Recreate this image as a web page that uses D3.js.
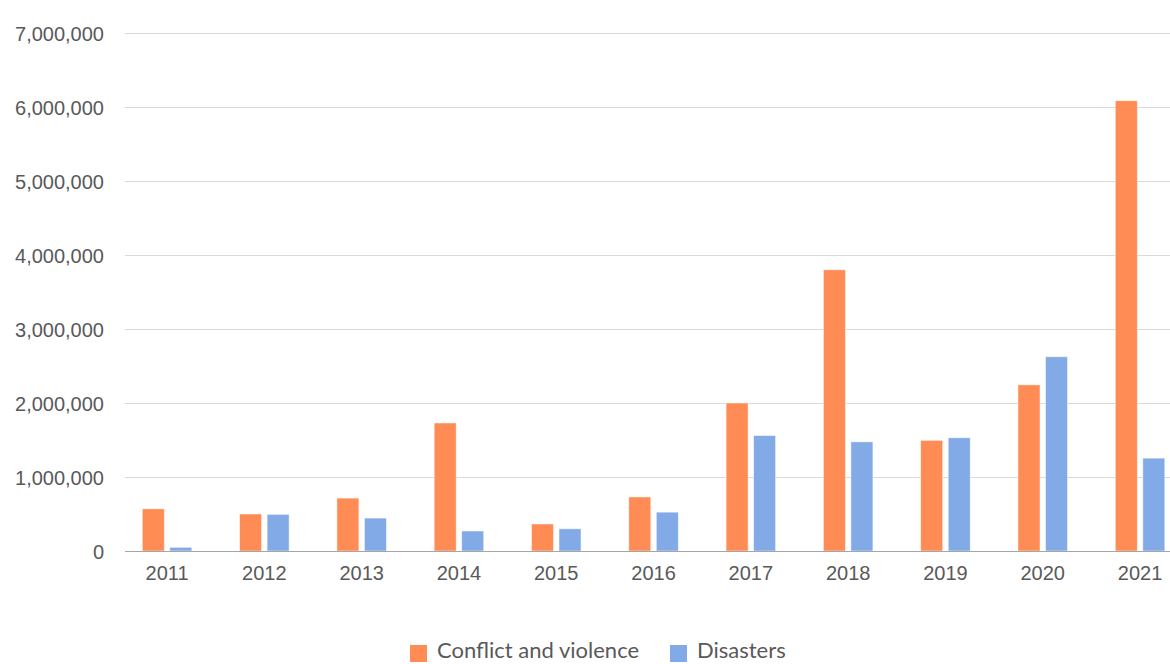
<!DOCTYPE html>
<html>
<head>
<meta charset="utf-8">
<script src="https://cdn.jsdelivr.net/npm/d3@7"></script>
<style>
  html, body { margin: 0; padding: 0; background: #fff; }
  svg { display: block; font-family: Lato, "Open Sans", sans-serif; }
</style>
</head>
<body>
<svg id="chart" width="1170" height="664"></svg>
<script>
// New internal displacements per year
const years = ["2011","2012","2013","2014","2015","2016","2017","2018","2019","2020","2021"];
const conflict = [570000, 500000, 715000, 1730000, 365000, 730000, 2000000, 3800000, 1495000, 2245000, 6085000];
const disasters = [50000, 495000, 445000, 270000, 300000, 525000, 1560000, 1475000, 1530000, 2625000, 1255000];
const seriesNames = ["Conflict and violence", "Disasters"];
const yTicks = [0, 1000000, 2000000, 3000000, 4000000, 5000000, 6000000, 7000000];

const colors = ["#FF8B55", "#82AAE6"];
const svg = d3.select("#chart");

const plotLeft = 125, plotRight = 1170;
const y = d3.scaleLinear().domain([0, 7000000]).range([551, 33]);
const x = d3.scaleBand().domain(years).range([118.4, 1188.7]).paddingInner(0).paddingOuter(0);
const bw = x.bandwidth();
const pairHalf = bw * 0.2545;
const sub = d3.scaleBand().domain(seriesNames).range([bw / 2 - pairHalf, bw / 2 + pairHalf]).paddingInner(0.2).paddingOuter(0);

// gridlines
svg.append("g").selectAll("line").data(yTicks.filter(d => d > 0)).join("line")
  .attr("x1", plotLeft).attr("x2", plotRight)
  .attr("y1", d => Math.round(y(d)) + 0.5).attr("y2", d => Math.round(y(d)) + 0.5)
  .attr("stroke", "#d9d9d9").attr("stroke-width", 1);

// y labels
const yAxis = d3.axisLeft(y).tickValues(yTicks).tickFormat(d3.format(",")).tickSize(0).tickPadding(0);
const yg = svg.append("g").attr("transform", `translate(104,0)`).call(yAxis);
yg.select(".domain").remove();
yg.selectAll("text").attr("fill", "#595959").style("font-size", "20px").attr("dy", "0.35em");

// bars
const data = years.map((yr, i) => ({ year: yr, values: [conflict[i], disasters[i]] }));
const groups = svg.append("g").selectAll("g").data(data).join("g")
  .attr("transform", d => `translate(${x(d.year)},0)`);
groups.selectAll("rect").data(d => d.values.map((v, j) => ({ v, name: seriesNames[j], j }))).join("rect")
  .attr("x", d => sub(d.name))
  .attr("width", sub.bandwidth())
  .attr("y", d => y(d.v))
  .attr("height", d => y(0) - y(d.v))
  .attr("fill", d => colors[d.j])
  .attr("stroke", "#fff").attr("stroke-opacity", 0.6).attr("stroke-width", 0.8);

// baseline
svg.append("line").attr("x1", plotLeft).attr("x2", plotRight)
  .attr("y1", 551.5).attr("y2", 551.5).attr("stroke", "#a6a6a6").attr("stroke-width", 1.2);

// x labels
const xAxis = d3.axisBottom(x).tickSize(0).tickPadding(0);
const xg = svg.append("g").attr("transform", `translate(0,566)`).call(xAxis);
xg.select(".domain").remove();
xg.selectAll("text").attr("fill", "#595959").style("font-size", "20px").attr("dy", "0.71em");

// legend
const legend = svg.append("g");
const legendX = [410, 670];
seriesNames.forEach((name, i) => {
  legend.append("rect").attr("x", legendX[i]).attr("y", 645).attr("width", 17).attr("height", 17).attr("fill", colors[i]);
  legend.append("text").attr("x", legendX[i] + 27).attr("y", 658)
    .attr("fill", "#595959").style("font-size", "22px").text(name);
});
</script>
</body>
</html>
